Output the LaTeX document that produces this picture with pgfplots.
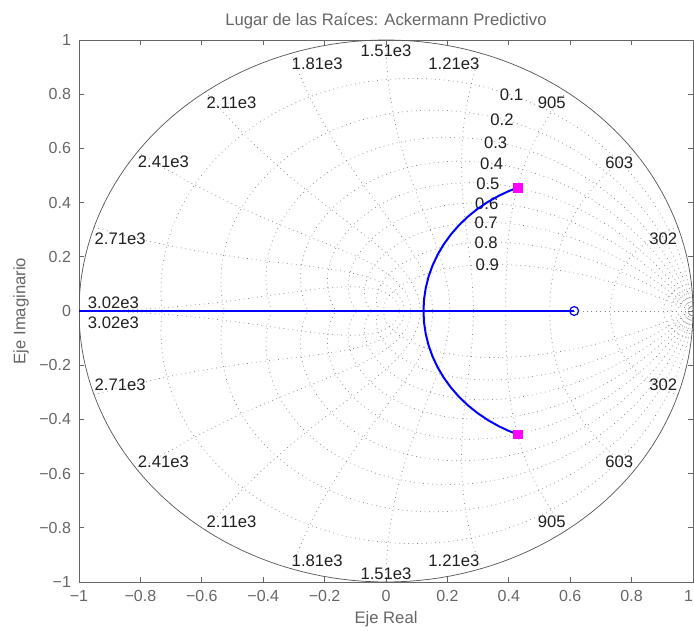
\documentclass[border=0pt]{standalone}
\usepackage{fontspec}
\setmainfont{Liberation Sans}
\usepackage{pgfplots}
\pgfplotsset{compat=1.18}
\definecolor{axgray}{gray}{0.40}
\definecolor{txtgray}{gray}{0.40}
\definecolor{labdark}{gray}{0.12}
\definecolor{griddot}{gray}{0.52}
\definecolor{circgray}{gray}{0.35}
\definecolor{locblue}{rgb}{0,0,1}
\definecolor{polemag}{rgb}{1,0,1}
\tikzset{
  griddots/.style={griddot, line width=0.55pt, dash pattern=on 0.55pt off 2.8pt},
  glab/.style={text=labdark, font=\fontsize{12.5}{14}\selectfont, inner sep=0pt},
}
\begin{document}
\begin{tikzpicture}
\begin{axis}[
  scale only axis, width=460.5pt, height=406.5pt,
  xmin=-1, xmax=1, ymin=-1, ymax=1,
  xtick={-1,-0.8,-0.6,-0.4,-0.2,0,0.2,0.4,0.6,0.8,1},
  xticklabels={−1,−0.8,−0.6,−0.4,−0.2,0,0.2,0.4,0.6,0.8,\makebox[0pt][r]{1}},
  ytick={-1,-0.8,-0.6,-0.4,-0.2,0,0.2,0.4,0.6,0.8,1},
  yticklabels={−1,−0.8,−0.6,−0.4,−0.2,0,0.2,0.4,0.6,0.8,1},
  tick align=inside, major tick length=4pt,
  axis line style={axgray, line width=0.6pt},
  every tick/.style={axgray, line width=0.6pt},
  tick label style={font=\fontsize{12}{14}\selectfont, text=txtgray},
  xticklabel style={yshift=-3pt},
  yticklabel style={xshift=-2.5pt},
]
% ---- z-plane grid: natural frequency curves (wn = k*pi/(10T)) ----
\pgfplotsinvokeforeach{1,...,10}{
  \addplot[griddots, domain=0:90, samples=60, variable=\p]
    ({exp(-#1*pi/10*sin(\p))*cos(deg(#1*pi/10*cos(\p)))},
     {exp(-#1*pi/10*sin(\p))*sin(deg(#1*pi/10*cos(\p)))});
  \addplot[griddots, domain=0:90, samples=60, variable=\p]
    ({exp(-#1*pi/10*sin(\p))*cos(deg(#1*pi/10*cos(\p)))},
     {-exp(-#1*pi/10*sin(\p))*sin(deg(#1*pi/10*cos(\p)))});
}
% small frequency curves near z = 1
\pgfplotsinvokeforeach{0.025,0.05,0.075,0.1}{
  \addplot[griddots, domain=0:90, samples=25, variable=\p]
    ({exp(-#1*sin(\p))*cos(deg(#1*cos(\p)))},
     {exp(-#1*sin(\p))*sin(deg(#1*cos(\p)))});
  \addplot[griddots, domain=0:90, samples=25, variable=\p]
    ({exp(-#1*sin(\p))*cos(deg(#1*cos(\p)))},
     {-exp(-#1*sin(\p))*sin(deg(#1*cos(\p)))});
}
% ---- damping ratio curves zeta = 0.1 ... 0.9 ----
\pgfplotsinvokeforeach{1,...,9}{
  \addplot[griddots, domain=0:180, samples=90, variable=\t]
    ({exp(-(#1/10)/sqrt(1-(#1/10)^2)*\t*pi/180)*cos(\t)},
     {exp(-(#1/10)/sqrt(1-(#1/10)^2)*\t*pi/180)*sin(\t)});
  \addplot[griddots, domain=0:180, samples=90, variable=\t]
    ({exp(-(#1/10)/sqrt(1-(#1/10)^2)*\t*pi/180)*cos(\t)},
     {-exp(-(#1/10)/sqrt(1-(#1/10)^2)*\t*pi/180)*sin(\t)});
}
\addplot[griddots] coordinates {(0,0) (1,0)};
% unit circle
\addplot[circgray, line width=0.55pt, domain=0:360, samples=181] ({cos(x)},{sin(x)});
% ---- grid labels ----
\node[glab] at (axis cs:0.903,0.268) {302};
\node[glab] at (axis cs:0.760,0.547) {603};
\node[glab] at (axis cs:0.540,0.769) {905};
\node[glab] at (axis cs:0.221,0.914) {1.21e3};
\node[glab] at (axis cs:0.000,0.961) {1.51e3};
\node[glab] at (axis cs:-0.224,0.914) {1.81e3};
\node[glab] at (axis cs:-0.503,0.770) {2.11e3};
\node[glab] at (axis cs:-0.725,0.549) {2.41e3};
\node[glab] at (axis cs:-0.866,0.268) {2.71e3};
\node[glab] at (axis cs:-0.888,0.031) {3.02e3};
\node[glab] at (axis cs:0.903,-0.274) {302};
\node[glab] at (axis cs:0.760,-0.555) {603};
\node[glab] at (axis cs:0.540,-0.776) {905};
\node[glab] at (axis cs:0.221,-0.920) {1.21e3};
\node[glab] at (axis cs:0.000,-0.968) {1.51e3};
\node[glab] at (axis cs:-0.224,-0.920) {1.81e3};
\node[glab] at (axis cs:-0.503,-0.776) {2.11e3};
\node[glab] at (axis cs:-0.725,-0.555) {2.41e3};
\node[glab] at (axis cs:-0.866,-0.274) {2.71e3};
\node[glab] at (axis cs:-0.888,-0.043) {3.02e3};
\node[glab] at (axis cs:0.409,0.797) {0.1};
\node[glab] at (axis cs:0.378,0.705) {0.2};
\node[glab] at (axis cs:0.357,0.621) {0.3};
\node[glab] at (axis cs:0.344,0.545) {0.4};
\node[glab] at (axis cs:0.332,0.469) {0.5};
\node[glab] at (axis cs:0.328,0.397) {0.6};
\node[glab] at (axis cs:0.326,0.326) {0.7};
\node[glab] at (axis cs:0.326,0.250) {0.8};
\node[glab] at (axis cs:0.330,0.170) {0.9};
% ---- root locus ----
\addplot[locblue, line width=1.5pt] coordinates {(-1.05,0) (0.613,0)};
\addplot[locblue, line width=1.5pt] coordinates {
 (0.428,0.455) (0.3977,0.4413) (0.3675,0.4252) (0.3314,0.4022) (0.2974,0.3761)
 (0.2658,0.3472) (0.2369,0.3156) (0.2108,0.2816) (0.1878,0.2455) (0.168,0.2075)
 (0.1516,0.1679) (0.1387,0.1271) (0.1295,0.0853) (0.1239,0.0428) (0.122,0)};
\addplot[locblue, line width=1.5pt] coordinates {
 (0.428,-0.455) (0.3977,-0.4413) (0.3675,-0.4252) (0.3314,-0.4022) (0.2974,-0.3761)
 (0.2658,-0.3472) (0.2369,-0.3156) (0.2108,-0.2816) (0.1878,-0.2455) (0.168,-0.2075)
 (0.1516,-0.1679) (0.1387,-0.1271) (0.1295,-0.0853) (0.1239,-0.0428) (0.122,0)};
\addplot[only marks, mark=square*, mark size=3.3pt, mark options={fill=polemag, draw=polemag}]
  coordinates {(0.428,0.455) (0.428,-0.455)};
\addplot[only marks, mark=o, mark size=3.3pt, mark options={draw=locblue, line width=0.9pt, fill=white}]
  coordinates {(0.613,0)};
\coordinate (SW) at (rel axis cs:0,0);
\coordinate (NE) at (rel axis cs:1,1);
\coordinate (N) at (rel axis cs:0.5,1);
\coordinate (S) at (rel axis cs:0.5,0);
\coordinate (W) at (rel axis cs:0,0.5);
\end{axis}
\node[anchor=base, text=txtgray, font=\fontsize{12.5}{14}\selectfont, inner sep=0pt]
  at ([yshift=10.5pt]N) {Lugar de las Raíces: Ackermann Predictivo};
\node[anchor=base, text=txtgray, font=\fontsize{12.5}{14}\selectfont, inner sep=0pt]
  at ([yshift=-31pt]S) {Eje Real};
\node[rotate=90, anchor=center, text=txtgray, font=\fontsize{12.5}{14}\selectfont, inner sep=0pt]
  at ([xshift=-43.5pt]W) {Eje Imaginario};
\pgfresetboundingbox
\path ([shift={(-59.25pt,-36pt)}]SW) rectangle ([shift={(0.75pt,30pt)}]NE);
\end{tikzpicture}
\end{document}
